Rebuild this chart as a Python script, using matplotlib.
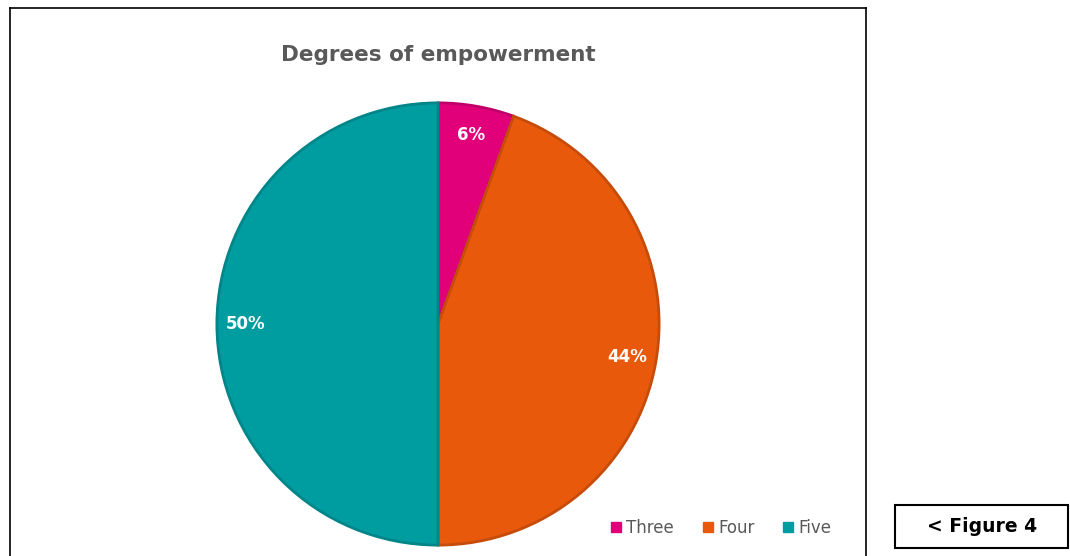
import matplotlib
matplotlib.use("Agg")
import matplotlib.pyplot as plt
from matplotlib.patches import Rectangle
from matplotlib.lines import Line2D
import matplotlib.colors as mcolors

categories = ["Three", "Four", "Five"]
counts = [1, 8, 9]
colors = ["#E2007A", "#E8590C", "#009DA0"]
title = "Degrees of empowerment"

W, H = 1070, 556
fig = plt.figure(figsize=(W / 100, H / 100), dpi=100)
plt.rcParams['font.family'] = ['DejaVu Sans']

def fx(x):
    return x / W

def fy(y):
    return 1 - y / H

# chart frame (open at the bottom)
frame_kw = dict(color="black", lw=1.2, transform=fig.transFigure)
fig.add_artist(Line2D([fx(10), fx(10)], [fy(8), 0], **frame_kw))
fig.add_artist(Line2D([fx(10), fx(866)], [fy(8), fy(8)], **frame_kw))
fig.add_artist(Line2D([fx(866), fx(866)], [fy(8), 0], **frame_kw))

# pie
cx, cy, r = 438, 324, 222
ax = fig.add_axes([fx(cx - r), fy(cy + r), (2 * r) / W, (2 * r) / H])
wedges, texts, autotexts = ax.pie(
    counts, colors=colors, startangle=90, counterclock=False,
    autopct=lambda p: f"{p:.0f}%", pctdistance=0.87, radius=1,
    textprops=dict(color="white", fontsize=12, fontweight="bold"))
for w, c in zip(wedges, colors):
    dark = tuple(v * 0.85 for v in mcolors.to_rgb(c))
    w.set_edgecolor(dark)
    w.set_linewidth(2.0)
ax.set_xlim(-1.004, 1.004)
ax.set_ylim(-1.004, 1.004)
ax.set_aspect("auto")
ax.axis("off")

fig.text(fx(438), fy(55), title, ha="center", va="center",
         fontsize=15.5, fontweight="bold", color="#595959")

handles = [Line2D([], [], marker="s", linestyle="none", markersize=7,
                  markerfacecolor=c, markeredgecolor=c) for c in colors]
fig.legend(handles, categories, loc="center", bbox_to_anchor=(fx(720), fy(528)),
           ncol=3, frameon=False, fontsize=12, labelcolor="#595959",
           handletextpad=0.15, columnspacing=1.6, handlelength=0.9)

# figure label box
fig.add_artist(Rectangle((fx(895), fy(548)), fx(1068) - fx(895), fy(505) - fy(548),
                         transform=fig.transFigure, fill=False, lw=1.5, edgecolor="black"))
fig.text(fx(982), fy(526), "< Figure 4", ha="center", va="center",
         fontsize=13.5, fontweight="bold", color="black")

fig.savefig("out.png", dpi=100)
